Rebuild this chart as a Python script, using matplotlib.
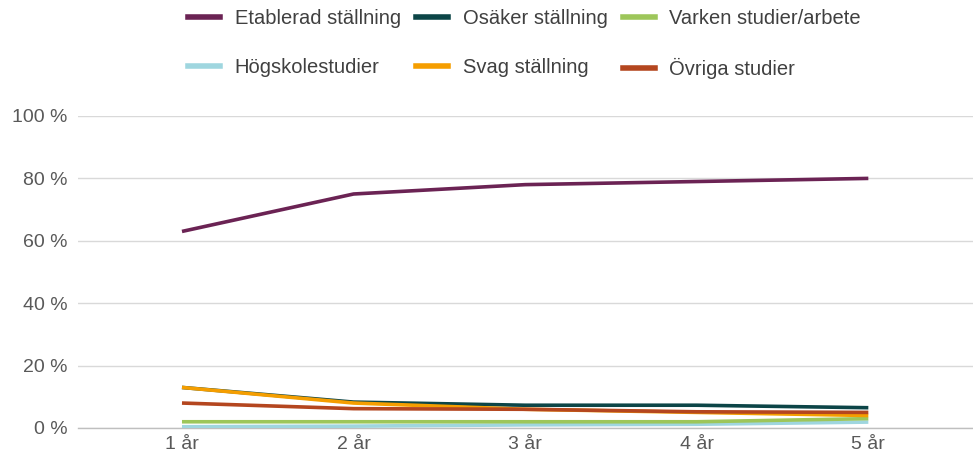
import matplotlib
matplotlib.use("Agg")
import numpy as np
from matplotlib import pyplot as plt
from matplotlib.lines import Line2D

plt.rcParams['font.family'] = ['Liberation Sans', 'DejaVu Sans']

years = ['1 år', '2 år', '3 år', '4 år', '5 år']

etablerad = [63, 75, 78, 79, 80]
osaker = [13, 8.3, 7.3, 7.3, 6.5]
varken = [2, 2, 2, 2, 3]
hogskole = [0.4, 0.6, 1.0, 1.2, 1.9]
svag = [13, 8, 6, 5, 4]
ovriga = [8, 6.2, 6, 5.2, 5]

series = [
    ('Etablerad ställning', etablerad, '#6B2354'),
    ('Osäker ställning', osaker, '#0C4547'),
    ('Varken studier/arbete', varken, '#9DC65A'),
    ('Högskolestudier', hogskole, '#9FD6DF'),
    ('Svag ställning', svag, '#F59E00'),
    ('Övriga studier', ovriga, '#B4461F'),
]
# drawing order (last on top)
draw_order = ['Högskolestudier', 'Varken studier/arbete', 'Osäker ställning',
              'Svag ställning', 'Övriga studier', 'Etablerad ställning']

fig = plt.figure(figsize=(9.73, 4.59), dpi=100)
ax = fig.add_axes([78 / 973, 1 - 428 / 459, 1 - 78 / 973, (428 - 116) / 459])

x = np.arange(len(years))
lookup = {name: (vals, col) for name, vals, col in series}
for z, name in enumerate(draw_order):
    vals, col = lookup[name]
    ax.plot(x, vals, color=col, lw=2.6, zorder=3 + z, solid_capstyle='butt')

ax.set_ylim(0, 100)
ax.set_xlim(-0.606, 4.61)
ax.set_yticks(range(0, 101, 20))
ax.set_yticklabels([f'{v} %' for v in range(0, 101, 20)])
ax.set_xticks(x)
ax.set_xticklabels(years)
ax.tick_params(length=0, labelsize=14, labelcolor='#595959')
ax.tick_params(axis='y', pad=7.5)
ax.tick_params(axis='x', pad=6)
ax.grid(axis='y', color='#D9D9D9', lw=1)
ax.set_axisbelow(True)
for s in ['top', 'left', 'right']:
    ax.spines[s].set_visible(False)
ax.spines['bottom'].set_color('#BFBFBF')
ax.spines['bottom'].set_linewidth(1)

# legend is row-major in the reference; matplotlib fills columns first
handles = [Line2D([], [], color=col, lw=4) for _, _, col in series]
labels = [name for name, _, _ in series]
idx = [0, 3, 1, 4, 2, 5]
fig.legend([handles[i] for i in idx], [labels[i] for i in idx],
           ncol=3, loc='center', bbox_to_anchor=(0.539, 1 - 44 / 459),
           frameon=False, fontsize=14.5, labelcolor='#404040',
           handlelength=1.6, handletextpad=0.72, columnspacing=0.75,
           labelspacing=1.45)

fig.savefig('out.png', dpi=100)
